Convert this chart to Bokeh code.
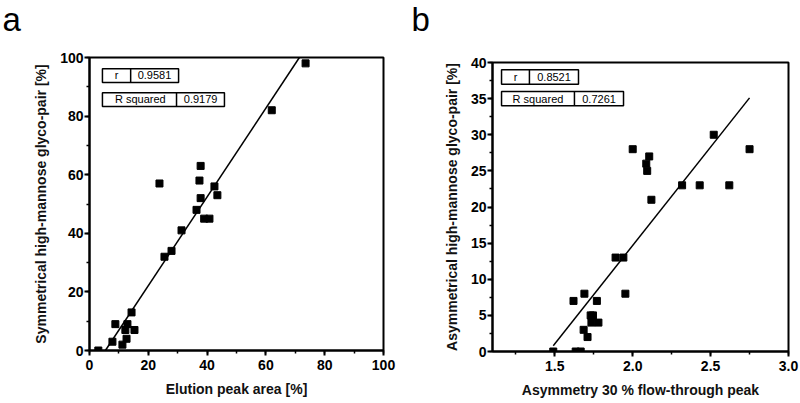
from bokeh.plotting import figure
from bokeh.layouts import row, column
from bokeh.models import (SingleIntervalTicker, Range1d, NumeralTickFormatter,
                          LinearAxis, FixedTicker)
from bokeh.embed import file_html
from bokeh.resources import INLINE

# ---------------- data ----------------
# Panel a
a_x = [73.5, 62, 23.8, 37.8, 37.4, 37.8, 42.5, 43.5, 36.4, 39, 40.8, 31.3, 27.9,
       25.5, 14.3, 8.8, 12.9, 12.2, 15.3, 12.6, 11.2, 7.8, 3]
a_y = [98, 82, 57, 63, 58, 52, 56, 53, 48, 45, 45, 41, 34,
       32, 13, 9, 9, 7, 7, 4, 2, 3, 0]
a_fit_x = [5.4, 71.4]
a_fit_y = [0, 100]
a_stats_names = ["r", "R squared"]
a_stats_values = ["0.9581", "0.9179"]

# Panel b
b_x = [2.0, 2.106, 2.087, 2.093, 2.12, 2.317, 2.43, 2.62, 2.52, 2.75, 1.89, 1.94,
       1.953, 1.69, 1.62, 1.77, 1.73, 1.745, 1.735, 1.78, 1.685, 1.71, 1.49, 1.634, 1.666]
b_y = [28, 27, 26, 25, 21, 23, 23, 23, 30, 28, 13, 13,
       8, 8, 7, 7, 5, 5, 4, 4, 3, 2, 0, 0, 0]
b_fit_x = [1.49, 2.75]
b_fit_y = [0.8, 35.1]
b_stats_names = ["r", "R squared"]
b_stats_values = ["0.8521", "0.7261"]

FONT = "Liberation Sans"


def style(p, xint, yint, xlabel, ylabel, letter, letter_offset, gap, mid):
    xa = p.below[0]
    ya = p.left[0]
    p.outline_line_color = "black"
    p.outline_line_width = 2
    p.grid.visible = False
    p.background_fill_color = "white"
    p.border_fill_color = "white"
    for ax in (xa, ya):
        ax.axis_line_width = 2
        ax.axis_line_color = "black"
        ax.major_tick_line_width = 2
        ax.minor_tick_line_width = 1.5
        ax.major_tick_in = 0
        ax.major_tick_out = 5
        ax.minor_tick_in = 0
        ax.minor_tick_out = 3
        ax.major_label_text_font = FONT
        ax.major_label_text_font_style = "bold"
        ax.major_label_text_font_size = "14px"
        ax.major_label_text_color = "black"
        ax.axis_label_text_font = FONT
        ax.axis_label_text_font_style = "bold"
        ax.axis_label_text_font_size = "14px"
        ax.axis_label_text_color = "#111111"
    xa.ticker = SingleIntervalTicker(interval=xint, num_minor_ticks=2)
    ya.ticker = SingleIntervalTicker(interval=yint, num_minor_ticks=2)
    xa.major_label_standoff = 4
    ya.major_label_standoff = 1
    xa.axis_label_standoff = 8
    ya.axis_label_standoff = 8
    xa.axis_label = xlabel
    ya.axis_label = ylabel
    # invisible spacer between frame and the panel letter (title):
    # one hidden tick with an empty label, whose length sets the gap
    spacer = LinearAxis(ticker=FixedTicker(ticks=[mid], minor_ticks=[]),
                        major_label_overrides={mid: ""},
                        major_label_text_font_size="0px",
                        major_tick_out=gap, major_tick_in=0,
                        minor_tick_out=0, minor_tick_in=0, major_label_standoff=0,
                        axis_line_color=None, major_tick_line_color=None,
                        minor_tick_line_color=None)
    p.add_layout(spacer, "above")
    p.title.text = letter
    p.title.text_font = FONT
    p.title.text_font_style = "normal"
    p.title.text_font_size = "33px"
    p.title.text_color = "black"
    p.title.align = "left"
    p.title.vertical_align = "top"
    p.title.offset = letter_offset
    p.title.standoff = 0
    return xa, ya


def stats_table(p, x0, xd, x2, x3, y0, y1, y2, y3):
    # two boxed rows: [name | value]
    p.quad(left=[x0, x0], right=[x2, x3], bottom=[y1, y3], top=[y0, y2],
           fill_color="white", line_color="black", line_width=1.5)
    p.segment(x0=list(xd), y0=[y1, y3], x1=list(xd), y1=[y0, y2],
              line_color="black", line_width=1.5)


def stats_text(p, xs, ys, texts):
    p.text(x=xs, y=ys, text=texts, text_font_size="11px",
           text_align="center", text_baseline="middle", text_color="black",
           text_font={"value": FONT})


# ---------------- panel a ----------------
pa = figure(width=400, height=400, output_backend="svg", toolbar_location=None,
            x_range=Range1d(0, 100), y_range=Range1d(0, 100),
            min_border_left=89, min_border_right=17, min_border_top=57, min_border_bottom=50)
style(pa, 20, 20, "Elution peak area [%]", "Symmetrical high-mannose glyco-pair [%]",
      "a", -87, 18, 50)
pa.line(a_fit_x, a_fit_y, line_color="black", line_width=1.5)
pa.scatter(a_x, a_y, marker="square", size=7, color="black")
stats_table(pa, 4.4, (14.0, 29.6), 30.3, 45.9, 96.2, 91.5, 88.0, 83.3)
stats_text(pa, [9.2, 17.3], [93.9, 85.7], a_stats_names)
stats_text(pa, [22.1, 37.8], [93.9, 85.7], a_stats_values)

# ---------------- panel b ----------------
pb = figure(width=400, height=400, output_backend="svg", toolbar_location=None,
            x_range=Range1d(1.1, 3.0), y_range=Range1d(0, 40),
            min_border_left=92, min_border_right=12, min_border_top=62, min_border_bottom=46)
xb, yb = style(pb, 0.5, 5, "Asymmetry 30 % flow-through peak",
               "Asymmetrical high-mannose glyco-pair [%]", "b", -81, 23, 2.0)
xb.formatter = NumeralTickFormatter(format="0.0")
pb.line(b_fit_x, b_fit_y, line_color="black", line_width=1.5)
pb.scatter(b_x, b_y, marker="square", size=7, color="black")
stats_table(pb, 1.158, (1.337, 1.626), 1.652, 1.941, 39.0, 37.0, 36.0, 34.0)
stats_text(pb, [1.248, 1.392], [38.0, 35.0], b_stats_names)
stats_text(pb, [1.495, 1.784], [38.0, 35.0], b_stats_values)

layout = row(column(pa), column(pb))
open("out.html", "w").write(file_html(layout, INLINE))
